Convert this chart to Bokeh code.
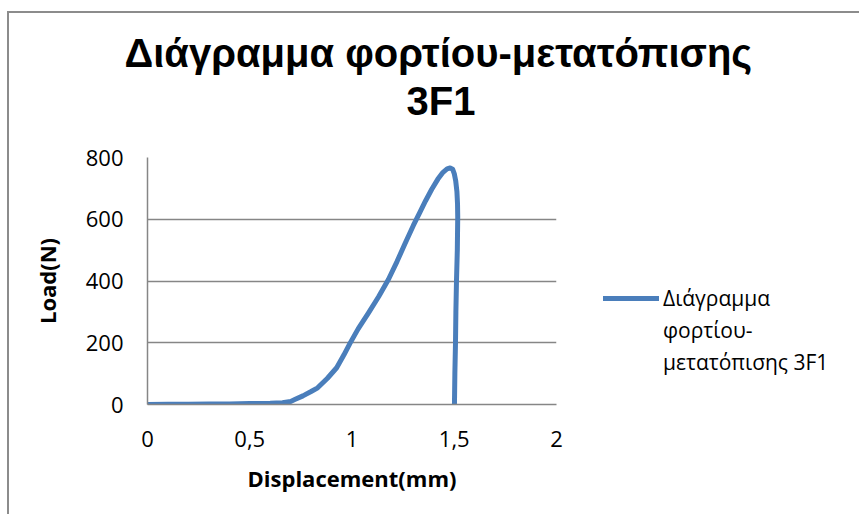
from bokeh.plotting import figure
from bokeh.models import (Title, Legend, LegendItem, FixedTicker, Range1d)
from bokeh.embed import file_html
from bokeh.resources import INLINE

# ---- data ----
displacement_mm = [0, 0.1, 0.2, 0.3, 0.4, 0.5, 0.6, 0.66, 0.70, 0.72, 0.76, 0.80,
                   0.832, 0.88, 0.925, 0.96, 0.99, 1.03, 1.08, 1.13, 1.178, 1.22,
                   1.26, 1.30, 1.33, 1.36, 1.39, 1.42, 1.445, 1.465, 1.48, 1.492,
                   1.50, 1.507, 1.513, 1.516, 1.517, 1.515, 1.511, 1.508, 1.506,
                   1.503, 1.501]
load_n = [0, 0.5, 1, 1.5, 2, 3, 4, 6, 10, 16, 28, 42,
          54, 85, 119, 160, 198, 245, 296, 349, 405, 463,
          522, 580, 620, 660, 697, 730, 752, 763, 766, 762,
          748, 725, 690, 650, 607, 500, 402, 300, 197,
          100, 0]

x_ticks = [0, 0.5, 1, 1.5, 2]
x_tick_labels = ["0", "0,5", "1", "1,5", "2"]
y_ticks = [0, 200, 400, 600, 800]

title_line1 = "Διάγραμμα φορτίου-μετατόπισης"
title_line2 = "3F1"
legend_lines = ["Διάγραμμα", "φορτίου-", "μετατόπισης 3F1"]
x_label = "Displacement(mm)"
y_label = "Load(N)"

GRID = "#868686"
BLUE = "#4a7ebb"
FONT = "Open Sans"

p = figure(output_backend="svg", toolbar_location=None,
           frame_width=409, frame_height=247,
           min_border_left=138, min_border_right=300,
           min_border_top=144, min_border_bottom=110,
           x_range=Range1d(0, 2), y_range=Range1d(0, 800),
           title=None)
p.styles = {"border-left": "2px solid #8c8c8c", "border-top": "2px solid #8c8c8c",
            "margin-top": "11px", "margin-left": "7px"}

r = p.line(displacement_mm, load_n, line_color=BLUE, line_width=5,
           line_join="round", line_cap="round")
# invisible helper so the legend text can sit on three rows
blank = p.line(x=[], y=[], line_alpha=0)

# axes
p.xaxis.ticker = FixedTicker(ticks=x_ticks)
p.xaxis.major_label_overrides = {t: l for t, l in zip(x_ticks, x_tick_labels)}
p.yaxis.ticker = FixedTicker(ticks=y_ticks)
for ax in (p.xaxis[0], p.yaxis[0]):
    ax.major_tick_line_color = None
    ax.minor_tick_line_color = None
    ax.major_tick_out = 0
    ax.major_tick_in = 0
    ax.axis_line_color = GRID
    ax.axis_line_width = 1.5
    ax.major_label_text_font = FONT
    ax.major_label_text_font_size = "22px"
    ax.major_label_text_color = "#000000"
    ax.axis_label_text_font = FONT
    ax.axis_label_text_font_style = "bold"
    ax.axis_label_text_font_size = "22px"
    ax.axis_label_text_color = "#000000"
p.xaxis.axis_label = x_label
p.yaxis.axis_label = y_label
p.xaxis.major_label_standoff = 26
p.yaxis.major_label_standoff = 24
p.xaxis.axis_label_standoff = 13
p.yaxis.axis_label_standoff = 21

p.xgrid.grid_line_color = None
p.ygrid.grid_line_color = GRID
p.ygrid.grid_line_width = 1.5
p.outline_line_color = None

# titles: first added sits closest to the frame
spacer = Title(text=" ", text_font_size="1px", standoff=31)
t2 = Title(text=title_line2, align="left", offset=259,
           text_font="Liberation Sans", text_font_style="bold",
           text_font_size="40px", text_color="#000000", standoff=2)
t1 = Title(text=title_line1, align="left", offset=-23,
           text_font="Liberation Sans", text_font_style="bold",
           text_font_size="40px", text_color="#000000", standoff=2)
p.add_layout(spacer, "above")
p.add_layout(t2, "above")
p.add_layout(t1, "above")

items = [LegendItem(label=legend_lines[0], renderers=[r]),
         LegendItem(label=legend_lines[1], renderers=[blank]),
         LegendItem(label=legend_lines[2], renderers=[blank])]
legend = Legend(items=items, location=(47, 28), orientation="vertical",
                glyph_width=56, glyph_height=20, label_standoff=4, spacing=4,
                padding=0, margin=0, border_line_color=None,
                background_fill_alpha=0,
                label_text_font=FONT, label_text_font_size="21px",
                label_text_color="#000000")
p.add_layout(legend, "right")

open("out.html", "w").write(file_html(p, INLINE))
